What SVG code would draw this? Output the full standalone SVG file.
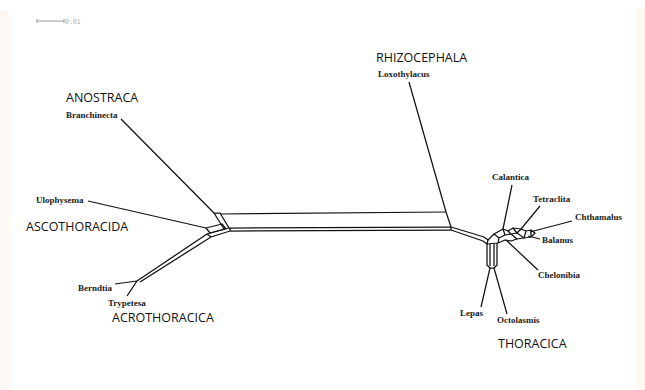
<svg xmlns="http://www.w3.org/2000/svg" width="645" height="390" viewBox="0 0 645 390">
<style>
.grp{font-family:"Open Sans","Liberation Sans",sans-serif;font-size:12.5px;fill:#111}
.sp{font-family:"Liberation Serif","Times New Roman",serif;font-weight:bold;font-size:9px;fill:#1a1a1a}
.e{stroke:#111;stroke-width:1.25;fill:none;stroke-linejoin:round}
.scale{stroke:#999;stroke-width:1;fill:none}
</style>
<rect width="645" height="390" fill="#ffffff"/>
<rect x="0" y="11" width="9" height="379" fill="#fff8f2"/>
<rect x="637" y="8" width="8" height="382" fill="#fff8f2"/>

<g id="scalebar">
  <path class="scale" d="M37 21H64M37 19V23M64 19V23"/>
  <text x="65" y="24" font-family="Liberation Mono,monospace" font-size="6.5" fill="#aaa">0.01</text>
</g>

<g id="connectors">
  <path class="e" d="M121 119L214 213"/>
  <path class="e" d="M88 201L206 228"/>
  <path class="e" d="M115 284L137 281M127 296L137 281"/>
  <path class="e" d="M409 82L446 212"/>
  <path class="e" d="M481 307L490 268M507 314L494 268"/>
  <path class="e" d="M512 185L503 229"/>
  <path class="e" d="M540 206L521 229"/>
  <path class="e" d="M572 221L530 232"/>
  <path class="e" d="M540 239L528 236"/>
  <path class="e" d="M538 270L506 240"/>
  <path class="e" d="M137 281L207 234M140 282L211 237M207 234L211 237"/>
  <path class="e" d="M214 213L220 213L229 228L224 229Z"/>
  <path class="e" d="M206 228L222 224L226 229L210 233Z"/>
  <path class="e" d="M207 234L224 229M211 237L230 231M230 228L230 231"/>
  <path class="e" d="M220 214L446 212"/>
  <path class="e" d="M229 228L451 227M230 231L451 230"/>
  <path class="e" d="M446 212L451 227L451 230"/>
  <path class="e" d="M451 227L484 237M451 230L483 241M484 237L488 240L487 244L483 241"/>
  <path class="e" d="M488 240L494 234L503 229L508 231L513 228L521 229L526 231L531 230L535 233L531 237L524 238L517 239L511 241L505 240L498 243L487 244"/>
  <path class="e" d="M494 234L499 238L498 243M503 229L505 235L499 238M505 235L511 234L508 231M511 234L517 239M511 234L517 233L513 228M517 233L524 238M517 233L521 229M526 231L524 238M531 230L531 237"/>
  <path class="e" d="M487 244L487 265L490 268L494 268L497 265L497 243M490 244L490 266M494 244L494 266"/>
</g>

<g id="ANOSTRACA"><text class="grp" x="66" y="102">ANOSTRACA</text></g>
<g id="Branchinecta"><text class="sp" x="66" y="118">Branchinecta</text></g>
<g id="RHIZOCEPHALA"><text class="grp" x="376" y="62">RHIZOCEPHALA</text></g>
<g id="Loxothylacus"><text class="sp" x="378" y="77">Loxothylacus</text></g>
<g id="Ulophysema"><text class="sp" x="36" y="203">Ulophysema</text></g>
<g id="ASCOTHORACIDA"><text class="grp" x="26" y="231">ASCOTHORACIDA</text></g>
<g id="Berndtia"><text class="sp" x="78" y="291">Berndtia</text></g>
<g id="Trypetesa"><text class="sp" x="108" y="306">Trypetesa</text></g>
<g id="ACROTHORACICA"><text class="grp" x="112" y="322">ACROTHORACICA</text></g>
<g id="Calantica"><text class="sp" x="492" y="180">Calantica</text></g>
<g id="Tetraclita"><text class="sp" x="533" y="202">Tetraclita</text></g>
<g id="Chthamalus"><text class="sp" x="575" y="220">Chthamalus</text></g>
<g id="Balanus"><text class="sp" x="542" y="243">Balanus</text></g>
<g id="Chelonibia"><text class="sp" x="538" y="278">Chelonibia</text></g>
<g id="Lepas"><text class="sp" x="460" y="316">Lepas</text></g>
<g id="Octolasmis"><text class="sp" x="497" y="323">Octolasmis</text></g>
<g id="THORACICA"><text class="grp" x="498" y="348">THORACICA</text></g>
</svg>
